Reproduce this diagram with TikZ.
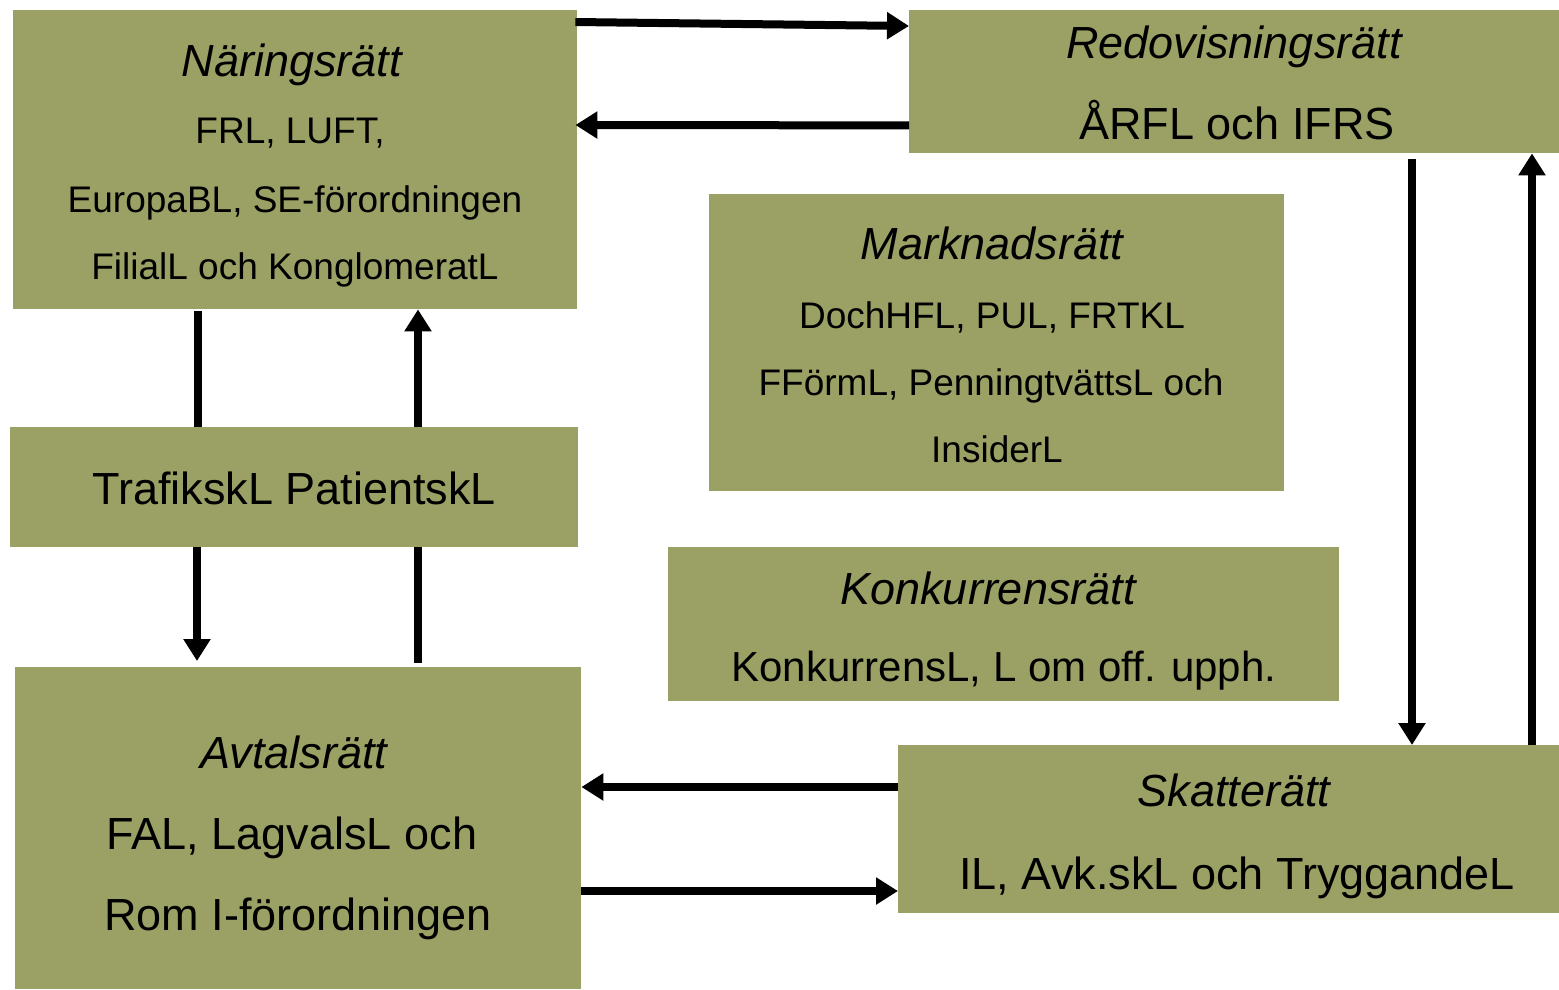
\documentclass[tikz,border=0pt]{standalone}
\usepackage{fontspec}
\setmainfont{Liberation Sans}
\usetikzlibrary{arrows.meta,calc}
\definecolor{olive}{RGB}{155,160,100}
\tikzset{
  box/.style={fill=olive,draw=none,inner sep=0pt,anchor=north west},
  big/.style={anchor=base,inner sep=0pt,font=\fontsize{45}{54}\selectfont},
  bigit/.style={anchor=base,inner sep=0pt,font=\fontsize{45}{54}\selectfont\itshape},
  small/.style={anchor=base,inner sep=0pt,font=\fontsize{37}{44}\selectfont},
  con/.style={line width=8pt},
  arr/.style={line width=8pt,-{Triangle[length=22pt,width=26pt]}}
}
\begin{document}
\begin{tikzpicture}[x=1pt,y=-1pt]
\useasboundingbox (0,0) rectangle (1559,989);
% boxes
\node[box,minimum width=564pt,minimum height=299pt] (nar) at (13,10) {};
\node[box,minimum width=650pt,minimum height=143pt] (red) at (909,10) {};
\node[box,minimum width=575pt,minimum height=297pt] (mar) at (709,194) {};
\node[box,minimum width=568pt,minimum height=120pt] (tra) at (10,427) {};
\node[box,minimum width=671pt,minimum height=154pt] (kon) at (668,547) {};
\node[box,minimum width=566pt,minimum height=322pt] (avt) at (15,667) {};
\node[box,minimum width=661pt,minimum height=168pt] (ska) at (898,745) {};
% texts
\node[bigit] (t1) at (292,76) {Näringsrätt};
\node[small] (t2) at (290,143) {FRL, LUFT,};
\node[small] (t3) at (295,212) {EuropaBL, SE-förordningen};
\node[small] (t4) at (295,279) {FilialL och KonglomeratL};
\node[bigit] (t5) at (1234,58) {Redovisningsrätt};
\node[big] (t6) at (1237,139) {ÅRFL och IFRS};
\node[bigit] (t7) at (992,259) {Marknadsrätt};
\node[small] (t8) at (992,328) {DochHFL, PUL, FRTKL};
\node[small] (t9) at (991,395) {FFörmL, PenningtvättsL och};
\node[small] (t10) at (997,462) {InsiderL};
\node[big] (t11) at (294,504) {TrafikskL PatientskL};
\node[bigit] (t12) at (988,604) {Konkurrensrätt};
\node[big,font=\fontsize{42}{50}\selectfont] (t13) at (1004,681) {KonkurrensL, L om off. upph.};
\node[bigit] (t14) at (294,768) {Avtalsrätt};
\node[big] (t15) at (292,849) {FAL, LagvalsL och};
\node[big] (t16) at (298,930) {Rom I-förordningen};
\node[bigit] (t17) at (1234,806) {Skatterätt};
\node[big] (t18) at (1237,889) {IL, Avk.skL och TryggandeL};
% connectors
\draw[arr] ($(nar.north east)+(-2,12)$) -- ($(red.north west)+(0,16)$);
\draw[arr] ($(red.south west)+(0,-28)$) -- ($(nar.north east)+(-2,115)$);
\draw[con] ($(nar.south west)+(185,2)$) -- ($(tra.north west)+(188,0)$);
\draw[arr] ($(tra.north west)+(408,0)$) -- ($(nar.south west)+(405,0)$);
\draw[arr] ($(tra.south west)+(187,0)$) -- ($(avt.north west)+(182,-6)$);
\draw[con] ($(avt.north west)+(403,-4)$) -- ($(tra.south west)+(408,0)$);
\draw[arr] ($(ska.north west)+(0,42)$) -- ($(avt.north east)+(0,120)$);
\draw[arr] ($(avt.north east)+(0,224)$) -- ($(ska.north west)+(0,146)$);
\draw[arr] ($(red.south west)+(503,6)$) -- ($(ska.north west)+(514,0)$);
\draw[arr] ($(ska.north west)+(634,0)$) -- ($(red.south west)+(623,0)$);
\end{tikzpicture}
\end{document}
